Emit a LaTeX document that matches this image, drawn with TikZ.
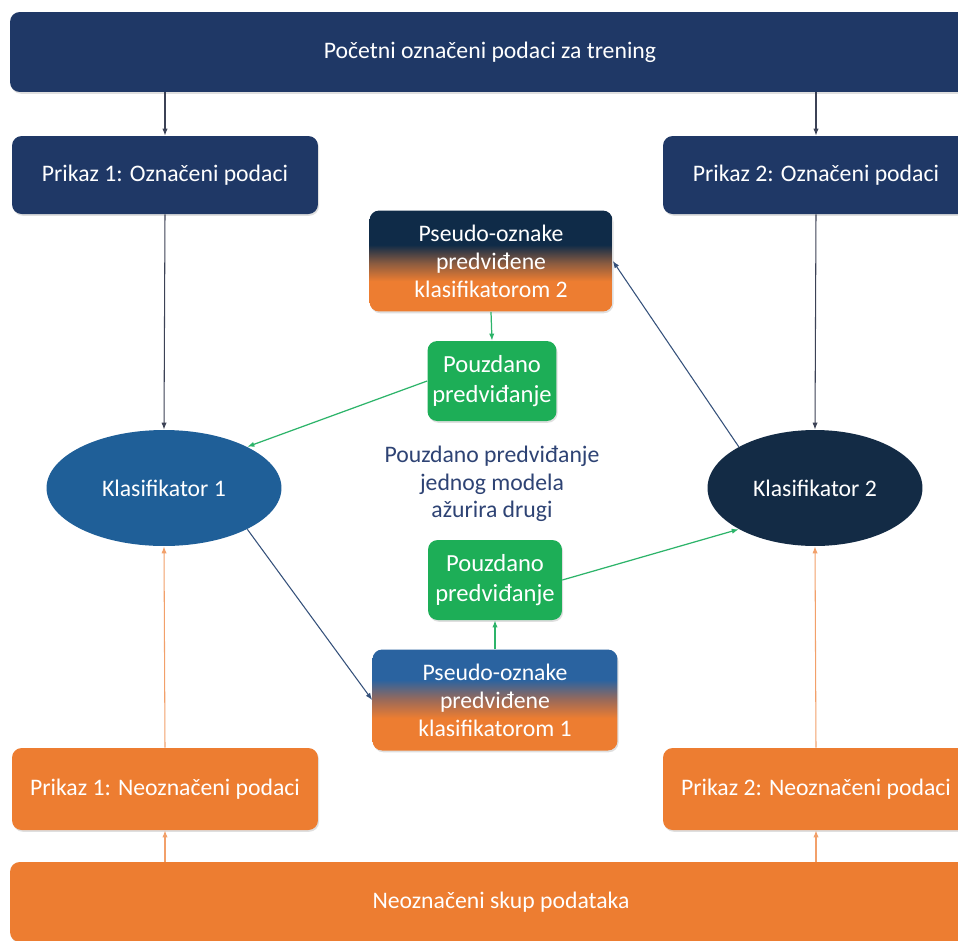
\documentclass[tikz,border=0pt]{standalone}
\usepackage{fontspec}
\setmainfont{Carlito}
\usetikzlibrary{arrows.meta,shadows,shapes.geometric}

\definecolor{navyC}{HTML}{1F3866}
\definecolor{orangeC}{HTML}{ED7D31}
\definecolor{greenC}{HTML}{1DAE57}
\definecolor{blueC}{HTML}{1F5F98}
\definecolor{darkC}{HTML}{132B45}
\definecolor{brownC}{HTML}{8A5B40}
\definecolor{brownB}{HTML}{9C6A58}
\definecolor{topnavy}{HTML}{0F2B48}
\definecolor{topblue}{HTML}{2A63A0}
\definecolor{textC}{HTML}{2E4374}
\definecolor{arrowC}{HTML}{3C4256}
\definecolor{lineC}{HTML}{34507A}
\definecolor{greenL}{HTML}{2DB46A}
\definecolor{orangeL}{HTML}{F2A06A}

% gradients of the two pseudo-label boxes (25bp..75bp = node height)
\pgfdeclareverticalshading{navyorange}{100bp}{color(0bp)=(orangeC); color(40bp)=(orangeC);
  color(49bp)=(brownC); color(58bp)=(topnavy); color(100bp)=(topnavy)}
\pgfdeclareverticalshading{blueorange}{100bp}{color(0bp)=(orangeC); color(41bp)=(orangeC);
  color(50bp)=(brownB); color(60bp)=(topblue); color(100bp)=(topblue)}

\tikzset{
  box/.style={rectangle, rounded corners=5.5pt, text=white, align=center, inner sep=0pt,
    font=\fontsize{13.5}{16}\selectfont,
    drop shadow={opacity=0.25, shadow xshift=0.6pt, shadow yshift=-1pt}},
  darkbox/.style={box, fill=navyC},
  orbox/.style={box, fill=orangeC},
  grbox/.style={box, fill=greenC, minimum height=1.6cm, font=\fontsize{14}{17}\selectfont},
  klas/.style={ellipse, text=white, font=\fontsize{13.5}{16}\selectfont, minimum height=2.32cm},
  arr/.style={draw=arrowC, line width=0.6pt, -{Latex[length=4pt,width=3pt]}},
  arrn/.style={draw=lineC, line width=0.6pt, -{Latex[length=4pt,width=3pt]}},
  arrg/.style={draw=greenL, line width=0.7pt, -{Latex[length=4pt,width=3pt]}},
  arro/.style={draw=orangeL, line width=0.6pt, -{Latex[length=4pt,width=3pt]}},
}

\begin{document}
\begin{tikzpicture}[x=0.02cm, y=-0.02cm]
  \fill[white] (0,0) rectangle (958,941);
  \useasboundingbox (0,0) rectangle (958,941);
  \clip (0,0) rectangle (958,941);

  % labelled data
  \node[darkbox, minimum width=19.2cm, minimum height=1.6cm] (top) at (490,52) {Početni označeni podaci za trening};
  \node[darkbox, minimum width=6.12cm, minimum height=1.56cm] (lab1) at (165,175) {Prikaz 1: Označeni podaci};
  \node[darkbox, minimum width=6.12cm, minimum height=1.56cm] (lab2) at (816,175) {Prikaz 2: Označeni podaci};

  % classifiers
  \node[klas, fill=blueC, minimum width=4.7cm] (k1) at (164,488) {Klasifikator 1};
  \node[klas, fill=darkC, minimum width=4.3cm] (k2) at (815,488) {Klasifikator 2};

  % pseudo labels
  \node[box, shading=navyorange, minimum width=4.86cm, minimum height=2.02cm] (ps2) at (491,261)
    {Pseudo-oznake\\predviđene\\klasifikatorom 2};
  \node[grbox, minimum width=2.58cm] (pz1) at (492,381) {Pouzdano\\predviđanje};
  \node[text=textC, align=center, font=\fontsize{13.5}{15.5}\selectfont] (note) at (492,484)
    {Pouzdano predviđanje\\jednog modela\\ažurira drugi};
  \node[grbox, minimum width=2.68cm] (pz2) at (495,580) {Pouzdano\\predviđanje};
  \node[box, shading=blueorange, minimum width=4.9cm, minimum height=2.02cm] (ps1) at (495,700)
    {Pseudo-oznake\\predviđene\\klasifikatorom 1};

  % unlabelled data
  \node[orbox, minimum width=6.12cm, minimum height=1.64cm] (un1) at (165,789) {Prikaz 1: Neoznačeni podaci};
  \node[orbox, minimum width=6.12cm, minimum height=1.64cm] (un2) at (816,789) {Prikaz 2: Neoznačeni podaci};
  \node[orbox, minimum width=19.64cm, minimum height=1.6cm] (pool) at (501,902) {Neoznačeni skup podataka};

  \draw[arr] (lab1 |- top.south) -- (lab1.north);
  \draw[arr] (lab2 |- top.south) -- (lab2.north);
  \draw[arr] (lab1.south) -- (k1.north);
  \draw[arr] (lab2.south) -- (k2.north);
  \draw[arrn] (k1.south east) -- (ps1.west);
  \draw[arrn] (k2.north west) -- (ps2.east);
  \draw[arrg] (ps2.south) -- (pz1.north);
  \draw[arrg] (ps1.north) -- (pz2.south);
  \draw[arrg] (pz1.west) -- (k1.north east);
  \draw[arrg] (pz2.east) -- (k2.south west);
  \draw[arro] (un1.north) -- (k1.south);
  \draw[arro] (un2.north) -- (k2.south);
  \draw[arro] (un1 |- pool.north) -- (un1.south);
  \draw[arro] (un2 |- pool.north) -- (un2.south);
\end{tikzpicture}
\end{document}
